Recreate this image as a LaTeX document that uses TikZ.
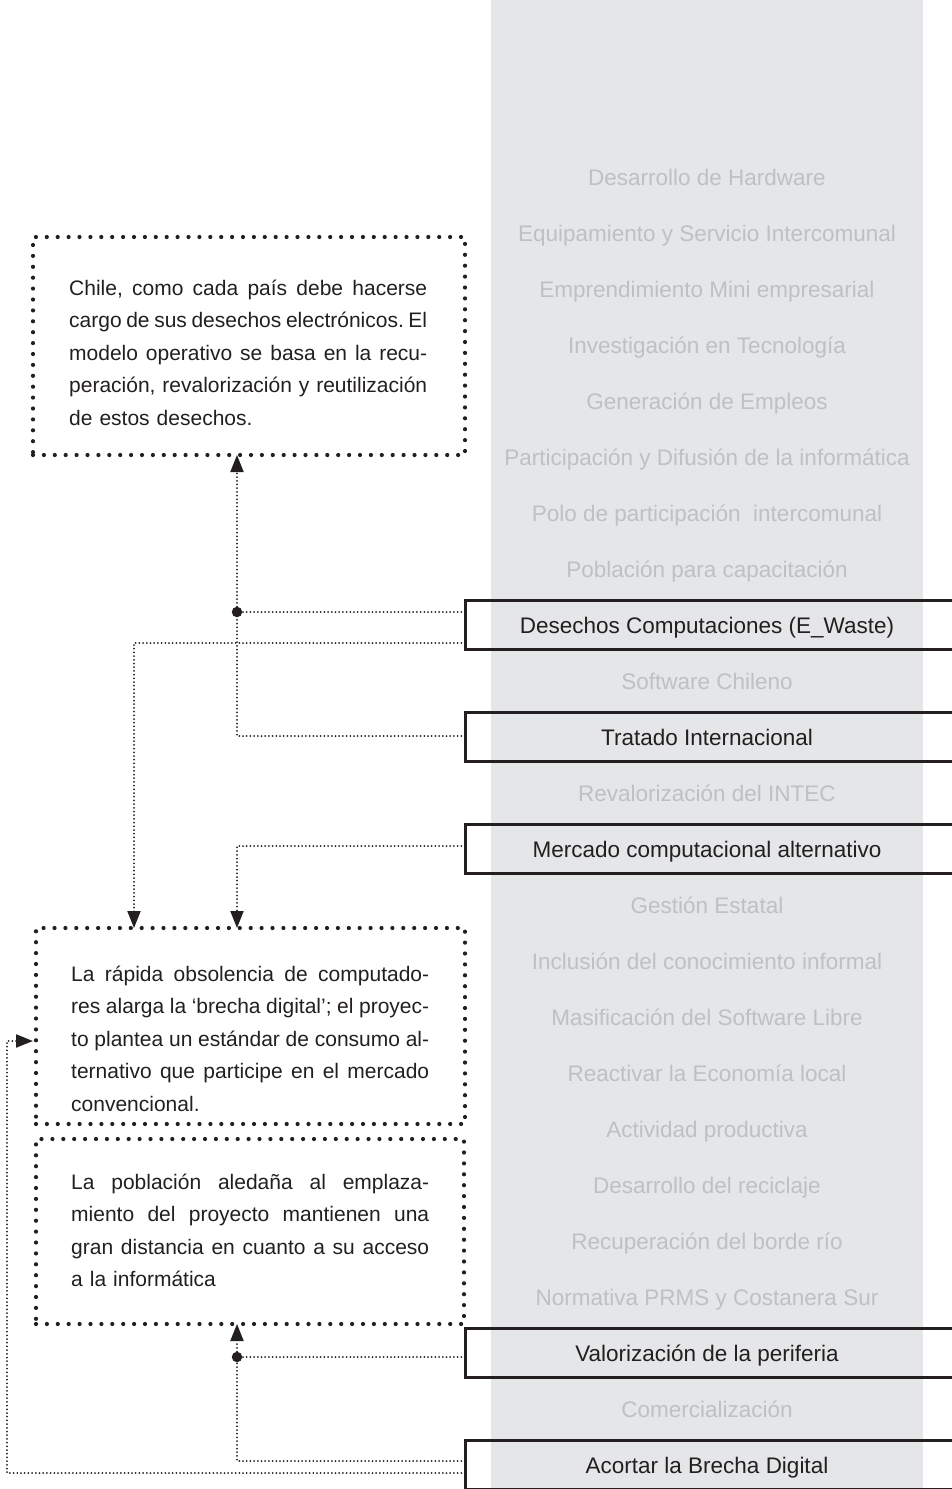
\documentclass[tikz,border=0pt]{standalone}
\usepackage{fontspec}
\setmainfont{Liberation Sans}
\usetikzlibrary{arrows.meta,calc}

\definecolor{colbg}{HTML}{E5E6E8}
\definecolor{muted}{HTML}{BFC0C2}
\definecolor{ink}{HTML}{231F20}

% one justified line / one ragged last line of a note
\newcommand\jline[1]{\hbox to 358pt{\spaceskip=0.278em plus 1fil minus 0.12em\relax #1}}
\newcommand\lastline[1]{\hbox to 358pt{#1\hfil}}

\begin{document}
\frenchspacing
\begin{tikzpicture}[x=1pt,y=-1pt,
  item/.style={font=\fontsize{22.5}{26}\selectfont, text=muted, inner sep=0pt, anchor=base},
  keyitem/.style={item, text=ink},
  keyframe/.style={draw=ink, line width=3pt, minimum width=500pt,
    minimum height=49pt, inner sep=0pt, outer sep=0pt, anchor=west},
  notebox/.style={draw=ink, line width=4.2pt, dash pattern=on 0pt off 10.9pt,
    line cap=round, inner sep=0pt, outer sep=0pt},
  notetext/.style={font=\fontsize{21}{32.5}\selectfont, text=ink,
    text width=358pt, inner sep=0pt, anchor=base west},
  link/.style={draw=ink, line width=2pt, dash pattern=on 0pt off 3.7pt,
    line cap=round},
  tip/.style={-{Triangle[length=17pt,width=13pt]}},
  joint/.style={circle, fill=ink, minimum size=10.5pt, inner sep=0pt}
]
\useasboundingbox (0,0) rectangle (952,1489);

% grey column of topics
\fill[colbg] (491,0) rectangle (923,1489);

\foreach \t/\k in {Desarrollo de Hardware/0,
  Equipamiento y Servicio Intercomunal/1,
  Emprendimiento Mini empresarial/2,
  Investigación en Tecnología/3,
  Generación de Empleos/4,
  Participación y Difusión de la informática/5,
  Polo de participación\ \ intercomunal/6,
  Población para capacitación/7,
  Software Chileno/9,
  Revalorización del INTEC/11,
  Gestión Estatal/13,
  Inclusión del conocimiento informal/14,
  Masificación del Software Libre/15,
  Reactivar la Economía local/16,
  Actividad productiva/17,
  Desarrollo del reciclaje/18,
  Recuperación del borde río/19,
  Normativa PRMS y Costanera Sur/20,
  Comercialización/22}
  \node[item] (it\k) at (707,{185+56*\k}) {\t};

% highlighted topics
\node[keyframe] (fDes) at (465,625) {};
\node[keyitem]  (kDes) at (707,633) {Desechos Computaciones (E\_Waste)};
\node[keyframe] (fTra) at (465,737) {};
\node[keyitem]  (kTra) at (707,745) {Tratado Internacional};
\node[keyframe] (fMer) at (465,849) {};
\node[keyitem]  (kMer) at (707,857) {Mercado computacional alternativo};
\node[keyframe] (fVal) at (465,1353) {};
\node[keyitem]  (kVal) at (707,1361) {Valorización de la periferia};
\node[keyframe] (fAco) at (465,1465) {};
\node[keyitem]  (kAco) at (707,1473) {Acortar la Brecha Digital};

% notes
\node[notebox, minimum width=432pt, minimum height=218pt] (n1) at (249,346) {};
\node[notetext] (t1) at (69,295) {%
  \jline{Chile, como cada país debe hacerse}
  \jline{cargo de sus desechos electrónicos. El}
  \jline{modelo operativo se basa en la recu-}
  \jline{peración, revalorización y reutilización}
  \lastline{de estos desechos.}};

\node[notebox, minimum width=429pt, minimum height=196pt] (n2) at (250.5,1026) {};
\node[notetext] (t2) at (71,981) {%
  \jline{La rápida obsolencia de computado-}
  \jline{res alarga la ‘brecha digital’; el proyec-}
  \jline{to plantea un estándar de consumo al-}
  \jline{ternativo que participe en el mercado}
  \lastline{convencional.}};

\node[notebox, minimum width=428pt, minimum height=185pt] (n3) at (250,1231.5) {};
\node[notetext] (t3) at (71,1189) {%
  \jline{La población aledaña al emplaza-}
  \jline{miento del proyecto mantienen una}
  \jline{gran distancia en cuanto a su acceso}
  \lastline{a la informática}};

% connector columns and ports
\coordinate (colA) at (237,0);
\coordinate (colB) at (134,0);
\coordinate (colC) at (7,0);
\coordinate (d1)  at ($(fDes.west)+(0,-13)$);
\coordinate (d2)  at ($(fDes.west)+(0,18)$);
\coordinate (tr)  at ($(fTra.west)+(0,-1)$);
\coordinate (me)  at ($(fMer.west)+(0,-3)$);
\coordinate (va)  at ($(fVal.west)+(0,4)$);
\coordinate (ac1) at ($(fAco.west)+(0,-4)$);
\coordinate (ac2) at ($(fAco.west)+(0,8)$);
\coordinate (in2) at ($(n2.west)+(-3,15)$);

\node[joint] (j1) at (colA |- d1) {};
\node[joint] (j2) at (colA |- va) {};

% links
\draw[link] (d1) -- (j1);
\draw[link] (tr) -| (j1);
\draw[link,tip] (j1) -- (j1 |- n1.south);
\draw[link,tip] (d2) -| (colB |- n2.north);
\draw[link,tip] (me) -| (colA |- n2.north);
\draw[link] (va) -- (j2);
\draw[link] (ac1) -| (j2);
\draw[link,tip] (j2) -- (j2 |- n3.south);
\draw[link,tip] (ac2) -| (colC |- in2) -- (in2);
\end{tikzpicture}
\end{document}
